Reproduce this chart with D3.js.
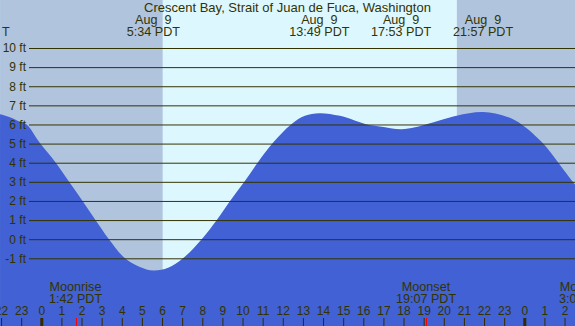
<!DOCTYPE html>
<html lang="en">
<head>
<meta charset="utf-8">
<title>Crescent Bay tide chart</title>
<script src="https://d3js.org/d3.v7.min.js"></script>
<style>
  body { margin: 0; }
  svg text { font-family: "Liberation Sans", Arial, sans-serif; fill: #333300; }
</style>
</head>
<body>
<script>
// Tide heights (hours from midnight Aug 9, feet)
var tideHours = [-2.05, -1.56, -1.06, -0.73, -0.05, 0.72, 1.38, 2.05, 2.69, 3.36, 4.16, 4.9, 5.567, 6.3, 7.04, 7.97, 8.72, 9.38, 10.09, 10.75, 11.48, 12.41, 13.1, 13.817, 14.84, 16.09, 16.83, 17.883, 18.57, 19.31, 20.64, 21.95, 23.13, 23.87, 24.94, 25.69, 26.41, 26.52];
var tideFeet  = [6.53, 6.38, 6.14, 6.0, 5.0, 4.0, 3.0, 2.0, 1.0, 0.0, -1.0, -1.45, -1.64, -1.5, -1.0, 0.0, 1.0, 2.0, 3.0, 4.0, 5.0, 6.0, 6.45, 6.59, 6.45, 6.03, 5.89, 5.75, 5.85, 6.06, 6.46, 6.65, 6.41, 6.0, 5.0, 4.0, 3.0, 2.85];

// High / low tide labels
var extremeHours = [5.567, 13.817, 17.883, 21.95];
var extremeTimes = ["5:34 PDT", "13:49 PDT", "17:53 PDT", "21:57 PDT"];

// Night periods (hours)
var nightStart = [-2.05, 20.65];
var nightEnd   = [6.03, 26.52];

// Moon events
var moonHours  = [1.7, 19.117, 27.05];
var moonNames  = ["Moonrise", "Moonset", "Moonrise"];
var moonTimes  = ["1:42 PDT", "19:07 PDT", "3:03 PDT"];

var feetTicks = [-1, 0, 1, 2, 3, 4, 5, 6, 7, 8, 9, 10];
var hourTicks = d3.range(-2, 27);

var w = 575, h = 326;

var x = d3.scaleLinear().domain([-2.052, 26.52]).range([0, w]);
var y = d3.scaleLinear().domain([-1, 10]).range([258.3, 48]);

var svg = d3.select("body").append("svg")
    .attr("width", w)
    .attr("height", h);

// day background
svg.append("rect")
    .attr("width", w).attr("height", h)
    .attr("fill", "#ddf7ff");

// night shading
svg.selectAll(".night")
    .data(nightStart)
    .enter().append("rect")
    .attr("class", "night")
    .attr("x", function(d) { return x(d); })
    .attr("y", 0)
    .attr("width", function(d, i) { return x(nightEnd[i]) - x(d); })
    .attr("height", h)
    .attr("fill", "#b0c4de");

// tide area
var tide = tideHours.map(function(d, i) { return [d, tideFeet[i]]; });
var area = d3.area()
    .x(function(d) { return x(d[0]); })
    .y0(h)
    .y1(function(d) { return y(d[1]); })
    .curve(d3.curveCatmullRom.alpha(0.5));

svg.append("path")
    .datum(tide)
    .attr("d", area)
    .attr("fill", "#4161d4");

// height grid + labels
var yAxis = d3.axisLeft(y)
    .tickValues(feetTicks)
    .tickSize(-(w - 29))
    .tickPadding(3)
    .tickFormat(function(d) { return d + " ft"; });

var gy = svg.append("g")
    .attr("transform", "translate(29,0)")
    .call(yAxis);
gy.select(".domain").remove();
gy.attr("font-family", null).attr("font-size", null);
gy.selectAll("line").attr("stroke", "#333300").attr("stroke-width", 1);
gy.selectAll("text")
    .style("font-size", "12px")
    .attr("fill", "#333300");

// hour ticks along the bottom
var xAxis = d3.axisTop(x)
    .tickValues(hourTicks)
    .tickSize(8)
    .tickPadding(3)
    .tickFormat(function(d) { return ((d % 24) + 24) % 24; });

var gx = svg.append("g")
    .attr("transform", "translate(0," + h + ")")
    .call(xAxis);
gx.select(".domain").remove();
gx.attr("font-family", null).attr("font-size", null);
gx.selectAll("line")
    .attr("stroke", "#332a00")
    .attr("stroke-width", function(d) { return d % 24 === 0 ? 3 : 1; });
gx.selectAll("text")
    .style("font-size", "12px")
    .attr("fill", "#333300");

// moon event markers
svg.selectAll(".moonTick")
    .data(moonHours)
    .enter().append("line")
    .attr("class", "moonTick")
    .attr("x1", function(d) { return Math.round(x(d)) + 0.5; })
    .attr("x2", function(d) { return Math.round(x(d)) + 0.5; })
    .attr("y1", h - 8)
    .attr("y2", h)
    .attr("stroke", "#ff0000")
    .attr("stroke-width", 1);

var moonLabels = svg.selectAll(".moonLabel")
    .data(moonHours)
    .enter().append("text")
    .attr("class", "moonLabel")
    .attr("text-anchor", "middle")
    .style("font-size", "12.6px");
moonLabels.append("tspan")
    .attr("x", function(d) { return x(d); })
    .attr("y", 291)
    .text(function(d, i) { return moonNames[i]; });
moonLabels.append("tspan")
    .attr("x", function(d) { return x(d); })
    .attr("y", 303)
    .text(function(d, i) { return moonTimes[i]; });

// title
svg.append("text")
    .attr("x", w / 2)
    .attr("y", 12)
    .attr("text-anchor", "middle")
    .style("font-size", "13px")
    .text("Crescent Bay, Strait of Juan de Fuca, Washington");

// extreme labels
var extLabels = svg.selectAll(".extLabel")
    .data(extremeHours)
    .enter().append("text")
    .attr("class", "extLabel")
    .attr("text-anchor", "middle")
    .style("font-size", "12.6px")
    .style("white-space", "pre");
extLabels.append("tspan")
    .attr("x", function(d) { return x(d); })
    .attr("y", 24)
    .text("Aug  9");
extLabels.append("tspan")
    .attr("x", function(d) { return x(d); })
    .attr("y", 36)
    .text(function(d, i) { return extremeTimes[i]; });

svg.append("text")
    .attr("x", 2)
    .attr("y", 36)
    .style("font-size", "12.6px")
    .text("T");
</script>
</body>
</html>
